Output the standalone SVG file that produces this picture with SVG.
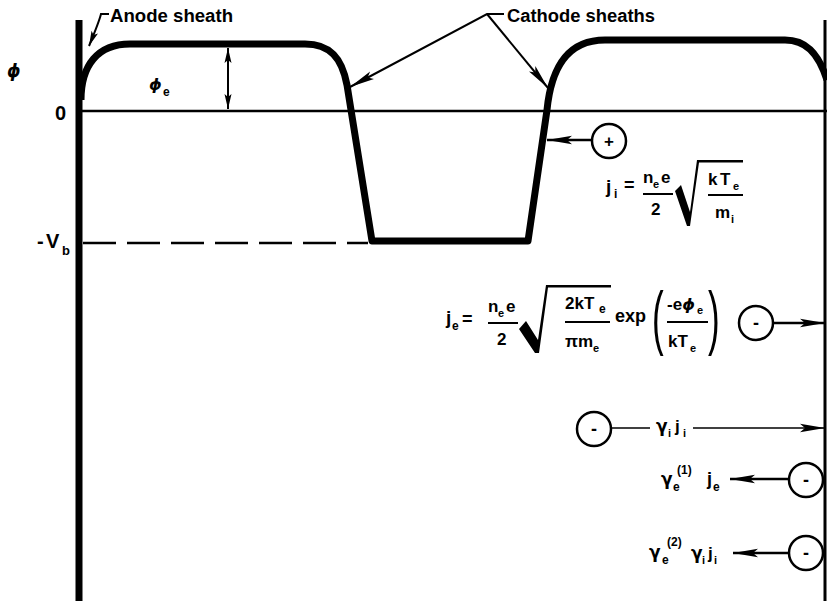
<svg xmlns="http://www.w3.org/2000/svg" width="827" height="601" viewBox="0 0 827 601">
<style>
text{font-family:"Liberation Sans",Arial,sans-serif;font-weight:bold;fill:#000}
.g{font-family:"DejaVu Sans","Liberation Sans",sans-serif}
.m{font-size:17px}
.s{font-size:11px}
.ln{stroke:#000;fill:none}
.circ{fill:#fff;stroke:#000;stroke-width:2.5}
</style>
<defs>
<marker id="al" markerUnits="userSpaceOnUse" markerWidth="26" markerHeight="10" refX="25" refY="5" orient="auto-start-reverse" viewBox="0 0 26 10"><path d="M0,0.8 L25,5 L0,9.2 L5,5 z" fill="#000"/></marker>
<marker id="as" markerUnits="userSpaceOnUse" markerWidth="16" markerHeight="8" refX="15" refY="4" orient="auto-start-reverse" viewBox="0 0 16 8"><path d="M0,0.5 L15,4 L0,7.5 L3,4 z" fill="#000"/></marker>
</defs>
<rect width="827" height="601" fill="#fff"/>

<g id="axes">
<line class="ln" x1="79" y1="20" x2="79" y2="601" stroke-width="7"/>
<line class="ln" x1="825" y1="20" x2="825" y2="601" stroke-width="3"/>
<line class="ln" x1="79" y1="111" x2="827" y2="111" stroke-width="2.5"/>
<line class="ln" x1="83" y1="243" x2="368" y2="243" stroke-width="2.5" stroke-dasharray="33 11"/>
<text x="7" y="77" class="g" style="font-size:17px;font-style:italic">ϕ</text>
<text x="55" y="120" style="font-size:20px">0</text>
<text x="37" y="248" style="font-size:20px">-</text>
<text x="46" y="248" style="font-size:20px">V</text>
<text x="62" y="255" style="font-size:13px">b</text>
</g>

<g id="potential">
<path class="ln" stroke-width="7" stroke-linejoin="round" d="M81,100 C81,65 98,44 130,44 L305,44 C330,44 342,58 347,85 L372,241 L528,241 L547,110 C551,70 566,40 605,40 L785,40 C805,40 818,52 827,80"/>
</g>

<g id="phi-e">
<line class="ln" x1="228" y1="48" x2="228" y2="109" stroke-width="2" marker-start="url(#as)" marker-end="url(#as)"/>
<text x="149" y="90" class="g" style="font-size:16px;font-style:italic">ϕ</text>
<text x="163" y="96" style="font-size:12px">e</text>
</g>

<g id="labels">
<text x="110" y="22" style="font-size:18px" textLength="123" lengthAdjust="spacingAndGlyphs">Anode sheath</text>
<text x="507" y="22" style="font-size:18px" textLength="148" lengthAdjust="spacingAndGlyphs">Cathode sheaths</text>
</g>

<g id="connectors">
<path class="ln" stroke-width="2" d="M109,14 L101,14 Q99,22 89,46" marker-end="url(#as)"/>
<path class="ln" stroke-width="2" d="M504,14 L487,14 L350,87" marker-end="url(#al)"/>
<path class="ln" stroke-width="2" d="M487,14 L548,88" marker-end="url(#al)"/>
<line class="ln" x1="592" y1="140" x2="547" y2="140" stroke-width="2.5" marker-end="url(#al)"/>
<line class="ln" x1="773" y1="323" x2="825" y2="323" stroke-width="2.5" marker-end="url(#al)"/>
<line class="ln" x1="611" y1="428" x2="650" y2="428" stroke-width="1.5"/>
<line class="ln" x1="693" y1="428" x2="825" y2="428" stroke-width="1.5" marker-end="url(#al)"/>
<line class="ln" x1="789" y1="479" x2="730" y2="479" stroke-width="2.5" marker-end="url(#al)"/>
<line class="ln" x1="789" y1="553" x2="733" y2="553" stroke-width="2.5" marker-end="url(#al)"/>
</g>

<g id="ion-plus">
<circle class="circ" cx="609" cy="141" r="17"/>
<text x="609" y="147" style="font-size:17px" text-anchor="middle">+</text>
</g>

<g id="ji-formula">
<text x="606" y="193" style="font-size:19px">j</text>
<text x="614" y="198" style="font-size:12px">i</text>
<text x="624" y="191" style="font-size:18px">=</text>
<text x="643" y="183" class="m">n</text>
<text x="653" y="188" class="s">e</text>
<text x="661" y="183" class="m">e</text>
<line class="ln" x1="643" y1="194" x2="673" y2="194" stroke-width="2"/>
<text x="651" y="215" class="m">2</text>
<path fill="#000" d="M675,191 L681,185 L690,212 L697,160 L743,160 L743,162.5 L699,162.5 L690,226 L687,226 Z"/>
<text x="708" y="185" class="m">k</text>
<text x="720" y="185" class="m">T</text>
<text x="733" y="190" class="s">e</text>
<line class="ln" x1="708" y1="195" x2="743" y2="195" stroke-width="2"/>
<text x="715" y="218" class="m">m</text>
<text x="731" y="223" class="s">i</text>
</g>

<g id="je-formula">
<text x="446" y="324" style="font-size:19px">j</text>
<text x="452" y="330" style="font-size:12px">e</text>
<text x="462" y="325" style="font-size:18px">=</text>
<text x="488" y="312" class="m">n</text>
<text x="498" y="317" class="s">e</text>
<text x="506" y="312" class="m">e</text>
<line class="ln" x1="488" y1="323" x2="518" y2="323" stroke-width="2"/>
<text x="497" y="345" class="m">2</text>
<path fill="#000" d="M519,329 L526,321 L538,340 L546,285 L611,285 L611,287.5 L548,287.5 L539,353 L535,353 Z"/>
<text x="565" y="309" class="m">2kT</text>
<text x="599" y="313" style="font-size:12px">e</text>
<line class="ln" x1="565" y1="322" x2="610" y2="322" stroke-width="2"/>
<text x="565" y="347" class="m">πm</text>
<text x="593" y="352" class="s">e</text>
<text x="615" y="322" style="font-size:18px">exp</text>
<text transform="translate(652,341) scale(0.5,1)" style="font-size:70px;font-weight:normal">(</text>
<text x="667" y="310" class="m">-e<tspan class="g" style="font-style:italic;font-size:16px">ϕ</tspan></text>
<text x="697" y="314" class="s">e</text>
<line class="ln" x1="667" y1="322" x2="708" y2="322" stroke-width="2"/>
<text x="668" y="347" class="m">kT</text>
<text x="690" y="352" class="s">e</text>
<text transform="translate(708,341) scale(0.5,1)" style="font-size:70px;font-weight:normal">)</text>
</g>

<g id="electron-je">
<circle class="circ" cx="756" cy="323" r="17"/>
<text x="756" y="329" style="font-size:18px" text-anchor="middle">-</text>
</g>

<g id="electron-gamma-i">
<circle class="circ" cx="594" cy="429" r="17"/>
<text x="594" y="435" style="font-size:18px" text-anchor="middle">-</text>
<text x="656" y="432" class="m g">γ</text>
<text x="668" y="437" class="s">i</text>
<text x="675" y="432" class="m">j</text>
<text x="683" y="437" class="s">i</text>
</g>

<g id="electron-gamma-e1">
<circle class="circ" cx="806" cy="480" r="17"/>
<text x="806" y="486" style="font-size:18px" text-anchor="middle">-</text>
<text x="661" y="485" class="g" style="font-size:17px">γ</text>
<text x="673" y="491" style="font-size:12px">e</text>
<text x="677" y="474" style="font-size:12px">(1)</text>
<text x="707" y="485" style="font-size:18px">j</text>
<text x="713" y="491" style="font-size:12px">e</text>
</g>

<g id="electron-gamma-e2">
<circle class="circ" cx="806" cy="553" r="17"/>
<text x="806" y="559" style="font-size:18px" text-anchor="middle">-</text>
<text x="649" y="558" class="g" style="font-size:17px">γ</text>
<text x="662" y="564" style="font-size:12px">e</text>
<text x="667" y="546" style="font-size:12px">(2)</text>
<text x="691" y="559" class="m g">γ</text>
<text x="702" y="564" class="s">i</text>
<text x="708" y="559" class="m">j</text>
<text x="714" y="564" class="s">i</text>
</g>
</svg>
